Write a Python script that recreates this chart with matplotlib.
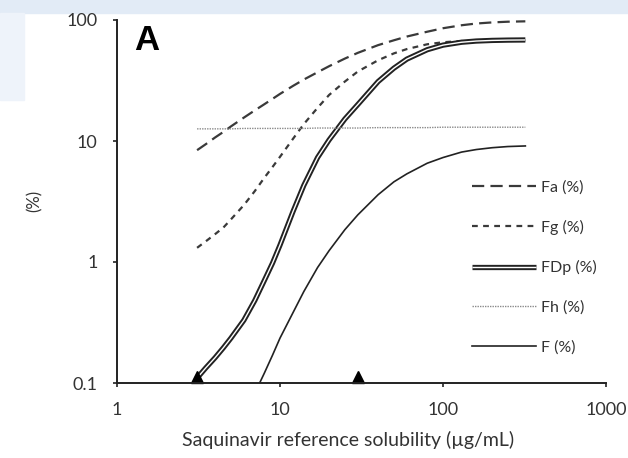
import numpy as np
import matplotlib.pyplot as plt
from matplotlib import patheffects as pe
from matplotlib.patches import Rectangle
from matplotlib.ticker import FixedLocator, FixedFormatter, NullLocator

plt.rcParams['font.family'] = ['Lato', 'DejaVu Sans']

# solubility grid (ug/mL) and curves
sol = [3.1, 3.5, 4, 4.5, 5, 6, 7, 8, 9, 10, 12, 14, 17, 20, 25, 30, 40, 50, 60, 80,
       100, 130, 160, 200, 250, 320]
fa = [8.4, 9.4, 10.7, 11.9, 13.2, 15.6, 17.9, 20.1, 22.3, 24.5, 28.5, 32.2, 37, 41.5,
      48, 53.5, 62, 68, 73, 80, 85.5, 90.5, 93.5, 95.5, 96.8, 97.5]
fg = [1.31, 1.48, 1.7, 1.93, 2.25, 2.95, 3.85, 4.95, 6.1, 7.4, 10.4, 13.8, 18.8, 24.0,
      31, 37.5, 46.5, 53, 57.5, 63, 65.5, 67, 67.5, 68, 68, 68]
fdp = [0.11, 0.133, 0.162, 0.196, 0.235, 0.33, 0.48, 0.7, 0.98, 1.38, 2.6, 4.3, 7.3,
       10.2, 15.2, 20, 31, 40, 47.5, 56.8, 62, 65.5, 67, 67.8, 68.2, 68.4]
fh = [12.6, 12.6, 12.6, 12.6, 12.6, 12.7, 12.7, 12.7, 12.7, 12.7, 12.7, 12.7, 12.8,
      12.8, 12.8, 12.8, 12.9, 12.9, 12.9, 12.9, 13.0, 13.0, 13.0, 13.0, 13.0, 13.0]

f_sol = [7.5, 8, 9, 10, 12, 14, 17, 20, 25, 30, 40, 50, 60, 80, 100, 130, 160, 200, 250, 320]
f = [0.1, 0.12, 0.17, 0.235, 0.38, 0.57, 0.9, 1.24, 1.85, 2.45, 3.6, 4.6, 5.35, 6.55,
     7.3, 8.1, 8.5, 8.8, 9.0, 9.1]

tri_x = [3.1, 30]
tri_y = [0.112, 0.112]

xticks = [1, 10, 100, 1000]
xlabels = ['1', '10', '100', '1000']
yticks = [0.1, 1, 10, 100]
ylabels = ['0.1', '1', '10', '100']

fig = plt.figure(figsize=(6.28, 4.58), dpi=100)

# light blue slide background bits, kept behind everything
fig.patches.append(Rectangle((0, 1 - 13/458), 1, 13/458, transform=fig.transFigure,
                             color='#e2ebf6', zorder=-10))
fig.patches.append(Rectangle((0, 1 - 100/458), 24/628, 87/458, transform=fig.transFigure,
                             color='#eef3fa', zorder=-10))

ax = fig.add_axes([117/628, 75/458, 489/628, 363/458])
ax.patch.set_alpha(0)

lc = '#3a3a3a'
ax.plot(sol, fa, color=lc, lw=1.6, dashes=(5.5, 2.8), label='Fa (%)')
ax.plot(sol, fg, color=lc, lw=1.6, dashes=(2.6, 2.4), label='Fg (%)')
ax.plot(sol, fdp, color='white', lw=1.0, solid_capstyle='butt', label='FDp (%)',
        path_effects=[pe.Stroke(linewidth=3.8, foreground='#222222'), pe.Normal()])
ax.plot(sol, fh, color='#8a8a8a', lw=1.0, dashes=(1, 0.8), label='Fh (%)')
ax.plot(f_sol, f, color='#222222', lw=1.2, label='F (%)')
ax.plot(tri_x, tri_y, linestyle='none', marker='^', color='black', ms=9, clip_on=False)

ax.set_xscale('log')
ax.set_yscale('log')
ax.set_xlim(1, 1000)
ax.set_ylim(0.1, 100)

ax.xaxis.set_major_locator(FixedLocator(xticks))
ax.xaxis.set_major_formatter(FixedFormatter(xlabels))
ax.xaxis.set_minor_locator(NullLocator())
ax.yaxis.set_major_locator(FixedLocator(yticks))
ax.yaxis.set_major_formatter(FixedFormatter(ylabels))
ax.yaxis.set_minor_locator(NullLocator())

for s in ['top', 'right']:
    ax.spines[s].set_visible(False)
for s in ['left', 'bottom']:
    ax.spines[s].set_linewidth(1.4)
    ax.spines[s].set_color('#222222')
ax.tick_params(direction='out', length=3, width=1.2, color='#222222',
               labelsize=13, labelcolor='#333333', pad=11)

fig.text(35/628, 1 - 201/458, '(%)', rotation=90, ha='center', va='center',
         fontsize=12, color='#333333')
fig.text(348/628, 1 - 440/458, 'Saquinavir reference solubility (\u00b5g/mL)',
         ha='center', va='center', fontsize=14, color='#333333')

ax.text(0.035, 0.99, 'A', transform=ax.transAxes, fontsize=25, fontweight='bold',
        family='Liberation Sans', va='top', ha='left')

ax.legend(loc='upper left', bbox_to_anchor=(0.726, 0.558), frameon=False,
          fontsize=11.5, handlelength=4.0, handletextpad=0.3, labelspacing=1.58,
          borderaxespad=0, borderpad=0, labelcolor='#333333')

fig.savefig('out.png', dpi=100)
